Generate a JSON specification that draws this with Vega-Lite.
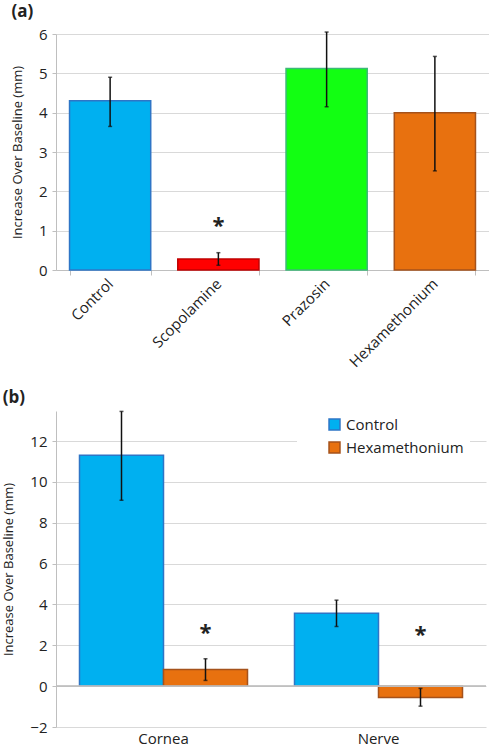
{
  "$schema": "https://vega.github.io/schema/vega-lite/v6.json",
  "padding": {"left": 2, "top": 3, "right": 2, "bottom": 0},
  "spacing": 18,
  "resolve": {
    "scale": {"fill": "independent", "stroke": "independent"},
    "legend": {"fill": "independent", "stroke": "independent"}
  },
  "config": {
    "font": "Open Sans",
    "view": {"stroke": null}
  },
  "datasets": {
    "a": [
      {"drug": "Control", "value": 4.3, "lo": 3.65, "hi": 4.9, "star": null},
      {"drug": "Scopolamine", "value": 0.28, "lo": 0.12, "hi": 0.44, "star": 1.12},
      {"drug": "Prazosin", "value": 5.12, "lo": 4.15, "hi": 6.05, "star": null},
      {"drug": "Hexamethonium", "value": 4.0, "lo": 2.52, "hi": 5.43, "star": null}
    ],
    "b": [
      {"site": "Cornea", "group": "Control", "value": 11.3, "lo": 9.1, "hi": 13.45, "star": null},
      {"site": "Cornea", "group": "Hexamethonium", "value": 0.82, "lo": 0.28, "hi": 1.34, "star": 2.6},
      {"site": "Nerve", "group": "Control", "value": 3.57, "lo": 2.92, "hi": 4.21, "star": null},
      {"site": "Nerve", "group": "Hexamethonium", "value": -0.56, "lo": -0.98, "hi": -0.11, "star": 2.52}
    ],
    "bnd": [{"site": "Nerve"}]
  },
  "vconcat": [
    {
      "title": {"text": "(a)", "anchor": "start", "frame": "bounds", "fontSize": 17, "fontWeight": "bold", "offset": 6, "color": "#222222"},
      "width": 433,
      "height": 236,
      "data": {"name": "a"},
      "encoding": {
        "x": {
          "field": "drug", "type": "nominal", "sort": null,
          "scale": {"paddingInner": 0.25, "paddingOuter": 0.125},
          "axis": {"title": null, "labelAngle": -45, "labelAlign": "right", "labelBaseline": "middle", "labelPadding": 6, "labelFontSize": 15, "labelColor": "#222222", "tickBand": "extent", "domainColor": "#bfbfbf", "tickColor": "#bfbfbf", "tickSize": 5}
        },
        "y": {
          "field": "value", "type": "quantitative",
          "scale": {"domain": [0, 6], "nice": false},
          "axis": {"title": "Increase Over Baseline (mm)", "titleFontSize": 13, "titleFontWeight": "normal", "titleColor": "#222222", "values": [0, 1, 2, 3, 4, 5, 6], "labelFontSize": 15, "labelColor": "#222222", "gridColor": "#d9d9d9", "domainColor": "#bfbfbf", "tickColor": "#bfbfbf", "tickSize": 4, "labelPadding": 5, "titlePadding": 14}
        }
      },
      "layer": [
        {
          "mark": {"type": "bar", "strokeWidth": 1.5},
          "encoding": {
            "fill": {"field": "drug", "type": "nominal", "legend": null, "scale": {"domain": ["Control", "Scopolamine", "Prazosin", "Hexamethonium"], "range": ["#00b0f0", "#ff0000", "#12ff12", "#e8710f"]}},
            "stroke": {"field": "drug", "type": "nominal", "legend": null, "scale": {"domain": ["Control", "Scopolamine", "Prazosin", "Hexamethonium"], "range": ["#2e75c6", "#c00000", "#3cb878", "#a5521b"]}}
          }
        },
        {
          "mark": {"type": "rule", "strokeWidth": 1.5, "color": "#111111"},
          "encoding": {"y": {"field": "lo", "type": "quantitative"}, "y2": {"field": "hi"}}
        },
        {
          "mark": {"type": "tick", "thickness": 1.5, "size": 4, "color": "#111111"},
          "encoding": {"y": {"field": "lo", "type": "quantitative"}}
        },
        {
          "mark": {"type": "tick", "thickness": 1.5, "size": 4, "color": "#111111"},
          "encoding": {"y": {"field": "hi", "type": "quantitative"}}
        },
        {
          "transform": [{"filter": "datum.star != null"}],
          "mark": {"type": "text", "text": "*", "fontSize": 22, "fontWeight": "bold", "color": "#222222", "baseline": "middle"},
          "encoding": {"y": {"field": "star", "type": "quantitative"}}
        }
      ]
    },
    {
      "title": {"text": "(b)", "anchor": "start", "frame": "bounds", "fontSize": 17, "fontWeight": "bold", "offset": 4, "color": "#222222"},
      "width": 430,
      "height": 316,
      "data": {"name": "b"},
      "encoding": {
        "x": {
          "field": "site", "type": "nominal", "sort": null,
          "scale": {"paddingInner": 0.2186, "paddingOuter": 0.1093},
          "axis": {"title": null, "domain": false, "ticks": false, "labelAngle": 0, "labelPadding": 4, "labelFontSize": 15, "labelColor": "#222222"}
        },
        "xOffset": {"field": "group", "type": "nominal", "sort": null, "scale": {"paddingInner": 0, "paddingOuter": 0}},
        "y": {
          "field": "value", "type": "quantitative",
          "scale": {"domain": [-2, 13.47], "nice": false},
          "axis": {"title": "Increase Over Baseline (mm)", "titleFontSize": 13, "titleFontWeight": "normal", "titleColor": "#222222", "values": [-2, 0, 2, 4, 6, 8, 10, 12], "labelFontSize": 15, "labelColor": "#222222", "gridColor": "#d9d9d9", "domainColor": "#bfbfbf", "tickColor": "#bfbfbf", "tickSize": 4, "labelPadding": 5, "titlePadding": 14}
        }
      },
      "layer": [
        {
          "mark": {"type": "bar", "strokeWidth": 1.5},
          "encoding": {
            "fill": {"field": "group", "type": "nominal", "title": null, "scale": {"domain": ["Control", "Hexamethonium"], "range": ["#00b0f0", "#e8710f"]},
              "legend": {"orient": "none", "legendX": 241, "legendY": 0, "fillColor": "white", "padding": 6, "symbolOffset": 24, "symbolType": "square", "symbolSize": 120, "symbolStrokeWidth": 1.5, "labelFontSize": 15, "labelColor": "#222222", "rowPadding": 6, "labelOffset": 4}},
            "stroke": {"field": "group", "type": "nominal", "title": null, "scale": {"domain": ["Control", "Hexamethonium"], "range": ["#2e75c6", "#a5521b"]},
              "legend": {"orient": "none", "legendX": 241, "legendY": 0, "fillColor": "white", "padding": 6, "symbolOffset": 24, "symbolType": "square", "symbolSize": 120, "symbolStrokeWidth": 1.5, "labelFontSize": 15, "labelColor": "#222222", "rowPadding": 6, "labelOffset": 4}}
          }
        },
        {
          "mark": {"type": "rule", "color": "#bfbfbf", "strokeWidth": 1},
          "encoding": {"x": {"value": 0}, "x2": {"value": 430}, "xOffset": null, "y": {"datum": 0}}
        },
        {
          "data": {"name": "bnd"},
          "mark": {"type": "rule", "color": "#bfbfbf", "strokeWidth": 1},
          "encoding": {"x": {"field": "site", "type": "nominal", "bandPosition": 0}, "xOffset": null, "y": {"datum": 0}, "y2": {"datum": -0.25}}
        },
        {
          "data": {"name": "bnd"},
          "mark": {"type": "rule", "color": "#bfbfbf", "strokeWidth": 1},
          "encoding": {"x": {"field": "site", "type": "nominal", "bandPosition": 1}, "xOffset": null, "y": {"datum": 0}, "y2": {"datum": -0.25}}
        },
        {
          "mark": {"type": "rule", "strokeWidth": 1.5, "color": "#111111"},
          "encoding": {"y": {"field": "lo", "type": "quantitative"}, "y2": {"field": "hi"}}
        },
        {
          "mark": {"type": "tick", "thickness": 1.5, "size": 4, "color": "#111111"},
          "encoding": {"y": {"field": "lo", "type": "quantitative"}}
        },
        {
          "mark": {"type": "tick", "thickness": 1.5, "size": 4, "color": "#111111"},
          "encoding": {"y": {"field": "hi", "type": "quantitative"}}
        },
        {
          "transform": [{"filter": "datum.star != null"}],
          "mark": {"type": "text", "text": "*", "fontSize": 22, "fontWeight": "bold", "color": "#222222", "baseline": "middle"},
          "encoding": {"y": {"field": "star", "type": "quantitative"}}
        }
      ]
    }
  ]
}
